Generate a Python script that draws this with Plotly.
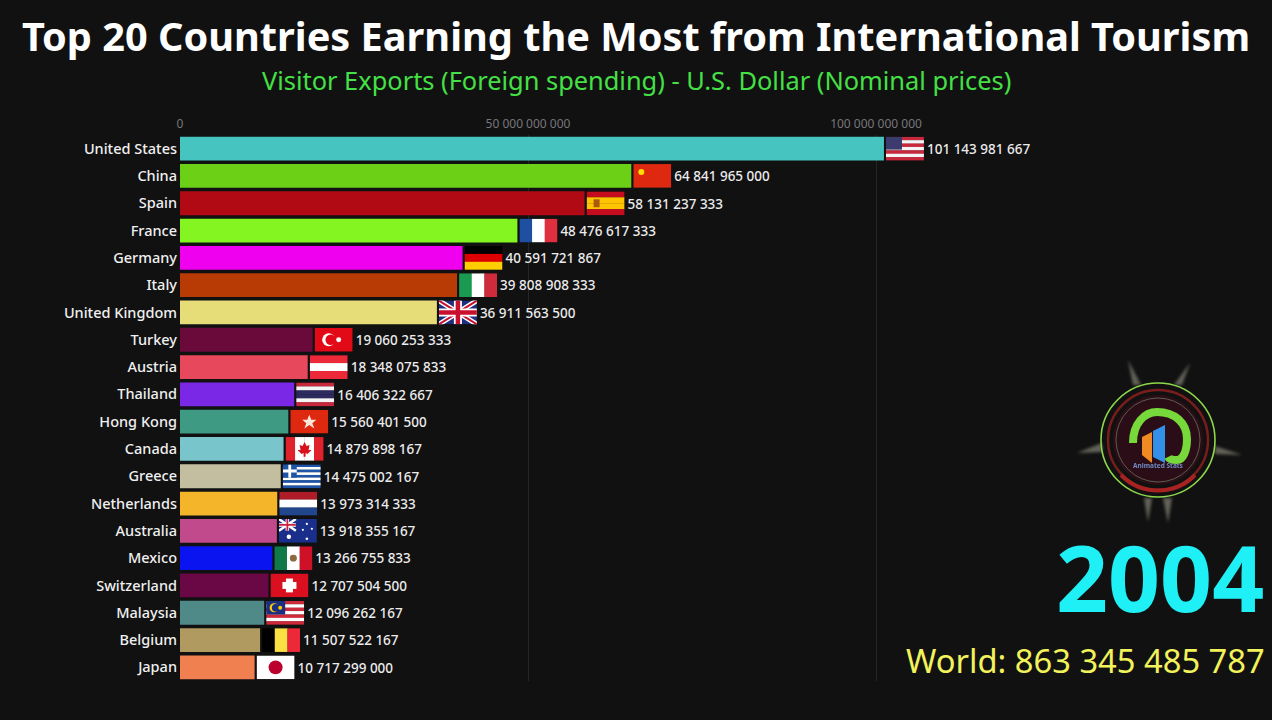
import base64
import plotly.graph_objects as go

countries = ['United States', 'China', 'Spain', 'France', 'Germany', 'Italy', 'United Kingdom',
             'Turkey', 'Austria', 'Thailand', 'Hong Kong', 'Canada', 'Greece', 'Netherlands',
             'Australia', 'Mexico', 'Switzerland', 'Malaysia', 'Belgium', 'Japan']
values = [101143981667, 64841965000, 58131237333, 48476617333, 40591721867, 39808908333,
          36911563500, 19060253333, 18348075833, 16406322667, 15560401500, 14879898167,
          14475002167, 13973314333, 13918355167, 13266755833, 12707504500, 12096262167,
          11507522167, 10717299000]
colors = ['#45c4c0', '#6bd016', '#b20a14', '#84f520', '#ef00ef', '#b83a05', '#e6dc78',
          '#6a0a3a', '#e8485c', '#7a28e6', '#3f9a84', '#78c6cc', '#c4bea0', '#f5b52a',
          '#c04a8c', '#0a14f0', '#6a0845', '#4f8a88', '#b09a60', '#f08050']
tick_vals = [0, 50000000000, 100000000000]

year = '2004'
world_total = 'World: 863 345 485 787'

BG = '#111112'
PX_PER_UNIT = 6.96 / 1e9   # pixels for one dollar
FLAG_W = 38 / PX_PER_UNIT
FLAG_GAP = 2 / PX_PER_UNIT
TEXT_GAP = 3 / PX_PER_UNIT
LABEL_NUDGE = 0.07         # scatter text sits a little high otherwise


def stripes_h(*cols):
    h = 24 / len(cols)
    return ''.join(f'<rect y="{i*h}" width="38" height="{h + 0.2}" fill="{c}"/>' for i, c in enumerate(cols))


def stripes_v(*cols):
    w = 38 / len(cols)
    return ''.join(f'<rect x="{i*w}" width="{w + 0.2}" height="24" fill="{c}"/>' for i, c in enumerate(cols))


us = stripes_h(*['#c8283c', '#f4f4f4'] * 3 + ['#c8283c']) + '<rect width="16" height="13" fill="#3c3b6e"/>'
cn = '<rect width="38" height="24" fill="#de2910"/><circle cx="8" cy="8" r="3" fill="#ffde00"/>'
es = stripes_h('#c60b1e', '#ffc400', '#ffc400', '#c60b1e') + '<rect x="7" y="8" width="6" height="8" fill="#ad5a10"/>'
fr = stripes_v('#1f4fa0', '#ffffff', '#e03040')
de = stripes_h('#000000', '#dd0000', '#ffce00')
it = stripes_v('#1a9a50', '#ffffff', '#d02b3c')
gb = ('<rect width="38" height="24" fill="#1f2f80"/>'
      '<path d="M0 0L38 24M38 0L0 24" stroke="#fff" stroke-width="5"/>'
      '<path d="M0 0L38 24M38 0L0 24" stroke="#c8102e" stroke-width="2"/>'
      '<path d="M19 0V24M0 12H38" stroke="#fff" stroke-width="8"/>'
      '<path d="M19 0V24M0 12H38" stroke="#c8102e" stroke-width="4.5"/>')
tr = ('<rect width="38" height="24" fill="#e30a17"/><circle cx="14" cy="12" r="6.5" fill="#fff"/>'
      '<circle cx="16" cy="12" r="5.2" fill="#e30a17"/><circle cx="24" cy="12" r="2.5" fill="#fff"/>')
at = stripes_h('#ed2939', '#ffffff', '#ed2939')
th = stripes_h('#c8283c', '#f4f4f4', '#2d2a60', '#2d2a60', '#f4f4f4', '#c8283c')
hk = ('<rect width="38" height="24" fill="#de2910"/>'
      '<path d="M19 5L21 10L26 10L22 13.5L24 19L19 15.5L14 19L16 13.5L12 10L17 10Z" fill="#fbe6dc"/>')
ca = (stripes_v('#e0222c', '#ffffff', '#ffffff', '#e0222c')
      + '<path d="M19 5L21 9L24 8L23 13L26 13L22 17L20 16V20H18V16L16 17L12 13L15 13L14 8L17 9Z" fill="#d8121c"/>')
gr = (stripes_h(*['#1f55a8', '#ffffff'] * 4 + ['#1f55a8'])
      + '<rect width="14" height="13.4" fill="#1f55a8"/><path d="M7 0V13.4M0 6.7H14" stroke="#fff" stroke-width="2.8"/>')
nl = stripes_h('#ae1c28', '#ffffff', '#21468b')
au = ('<rect width="38" height="24" fill="#1a2f8c"/>'
      '<path d="M0 0L17 12M17 0L0 12" stroke="#fff" stroke-width="2.5"/>'
      '<path d="M8.5 0V12M0 6H17" stroke="#fff" stroke-width="3.5"/>'
      '<path d="M8.5 0V12M0 6H17" stroke="#cc2040" stroke-width="1.8"/>'
      '<circle cx="10" cy="18" r="2.2" fill="#fff"/><circle cx="28" cy="5" r="1.1" fill="#fff"/>'
      '<circle cx="24" cy="11" r="1.1" fill="#fff"/><circle cx="33" cy="10" r="1.1" fill="#fff"/>'
      '<circle cx="28" cy="20" r="1.3" fill="#fff"/>')
mx = stripes_v('#0f7a48', '#ffffff', '#ce1126') + '<circle cx="19" cy="12" r="3.5" fill="#8a6a40"/>'
ch = ('<rect width="38" height="24" fill="#da1020"/><rect x="15.5" y="5" width="7" height="14" fill="#fff"/>'
      '<rect x="12" y="8.5" width="14" height="7" fill="#fff"/>')
my = (stripes_h(*['#cc2a3a', '#ffffff'] * 3 + ['#cc2a3a'])
      + '<rect width="19" height="13.7" fill="#1a2f80"/><circle cx="8" cy="7" r="4.6" fill="#ffcc00"/>'
      '<circle cx="9.6" cy="7" r="3.9" fill="#1a2f80"/><circle cx="14" cy="7" r="2" fill="#ffcc00"/>')
be = stripes_v('#000000', '#fae042', '#ed2939')
jp = '<rect width="38" height="24" fill="#ffffff"/><circle cx="19" cy="12" r="7" fill="#bc002d"/>'
flags = [us, cn, es, fr, de, it, gb, tr, at, th, hk, ca, gr, nl, au, mx, ch, my, be, jp]

logo = '''
<defs><filter id="b"><feGaussianBlur stdDeviation="0.7"/></filter>
<filter id="s"><feGaussianBlur stdDeviation="1.4"/></filter></defs>
<g filter="url(#s)" fill="#77776a" opacity="0.8">
<path d="M57 3L62 28L70 28Z"/><path d="M119 6L103 28L111 28Z"/>
<path d="M6 96L31 86L31 95Z"/><path d="M171 98L144 89L144 97Z"/>
<path d="M73 141L81 141L77 165Z"/><path d="M92 141L101 141L97 166Z"/>
</g>
<g filter="url(#b)">
<circle cx="87" cy="83" r="45" fill="#2c1014"/>
<circle cx="87" cy="83" r="57" fill="none" stroke="#8ed84a" stroke-width="1.6"/>
<circle cx="87" cy="83" r="50" fill="none" stroke="#7a1c1c" stroke-width="2.5"/>
<path d="M50 118A52 52 0 0 0 124 118" fill="none" stroke="#a82420" stroke-width="4"/>
<circle cx="87" cy="83" r="42" fill="none" stroke="#5a5a50" stroke-width="1"/>
<path d="M62 86C62 66 74 55 86 55C104 55 116 66 116 82C116 94 112 103 106 103C101 103 98 102 97 100"
 stroke="#76d83a" stroke-width="8" fill="none"/>
<path d="M71 80L81 75V106L71 98Z" fill="#f08a20"/>
<path d="M82 74L94 68V106L82 100Z" fill="#3090e8"/>
<text x="87" y="111" font-size="6.5" font-weight="bold" text-anchor="middle" fill="#7088c8" font-family="Noto Sans">Animated Stats</text>
</g>
'''


def svg_uri(body, w, h):
    svg = f'<svg xmlns="http://www.w3.org/2000/svg" viewBox="0 0 {w} {h}" preserveAspectRatio="none">{body}</svg>'
    return 'data:image/svg+xml;base64,' + base64.b64encode(svg.encode()).decode()


rows = list(range(len(countries)))
fig = go.Figure()
fig.add_trace(go.Bar(x=values, y=rows, orientation='h', marker_color=colors, marker_line_width=0,
                     width=0.87, hoverinfo='skip'))
# value labels sit just past the flag
fig.add_trace(go.Scatter(x=[v + FLAG_GAP + FLAG_W + TEXT_GAP for v in values], y=[r + LABEL_NUDGE for r in rows],
                         mode='text', text=[f'{v:,}'.replace(',', ' ') for v in values],
                         textposition='middle right', cliponaxis=False,
                         textfont=dict(family='Noto Sans', size=13.5, color='#ececec', weight=500), hoverinfo='skip'))

images = []
for i, flag in enumerate(flags):
    images.append(dict(source=svg_uri(flag, 38, 24), xref='x', yref='y', x=values[i] + FLAG_GAP, y=i,
                       sizex=FLAG_W, sizey=0.87, xanchor='left', yanchor='middle', sizing='stretch',
                       layer='above'))

L, R, T, B = 180, 1040, 135, 681


def paper_x(px):
    return (px - L) / (R - L)


def paper_y(py):
    return (B - py) / (B - T)


images.append(dict(source=svg_uri(logo, 174, 170), xref='paper', yref='paper', x=paper_x(1071), y=paper_y(357),
                   sizex=174 / (R - L), sizey=170 / (B - T), xanchor='left', yanchor='top', sizing='stretch',
                   layer='above'))

fig.update_layout(
    width=1272, height=720,
    autosize=False,
    margin=dict(l=L, r=1272 - R, t=T, b=720 - B),
    paper_bgcolor=BG, plot_bgcolor=BG,
    showlegend=False,
    separators='. ',
    images=images,
    title=dict(text='<b>Top 20 Countries Earning the Most from International Tourism</b>',
               x=0.5, xanchor='center', y=1 - 37 / 720, yanchor='middle',
               font=dict(family='Noto Sans', size=39.7, color='#ffffff')),
    xaxis=dict(side='top', range=[0, (R - L) / PX_PER_UNIT], tickvals=tick_vals, tickformat=',d',
               ticks='', showline=False, zeroline=False, showgrid=True, gridcolor='#262628', gridwidth=1,
               ticklabelstandoff=4,
               tickfont=dict(family='Noto Sans', size=12, color='#77777a')),
    yaxis=dict(range=[19.5, -0.5], tickvals=rows, ticktext=countries, ticks='', showline=False,
               zeroline=False, showgrid=False, ticklabelstandoff=2,
               tickfont=dict(family='Noto Sans', size=14.5, color='#f0f0f0', weight=500)),
    annotations=[
        dict(text='Visitor Exports (Foreign spending) - U.S. Dollar (Nominal prices)', xref='paper', yref='paper',
             x=paper_x(636), y=paper_y(80), xanchor='center', yanchor='middle', showarrow=False,
             font=dict(family='Noto Sans', size=25.4, color='#45e045')),
        dict(text=f'<b>{year}</b>', xref='paper', yref='paper', x=paper_x(1266), y=paper_y(577),
             xanchor='right', yanchor='middle', showarrow=False,
             font=dict(family='Noto Sans', size=91, color='#1ff0f5')),
        dict(text=world_total, xref='paper', yref='paper', x=paper_x(1267), y=paper_y(660),
             xanchor='right', yanchor='middle', showarrow=False,
             font=dict(family='Noto Sans', size=32.7, color='#f2f25a')),
    ],
)

# the default page margin would leave a white strip round the figure
fig.write_html('out.html', config=dict(displayModeBar=False),
               post_script="document.body.style.margin='0';document.body.style.background='#111112';")
